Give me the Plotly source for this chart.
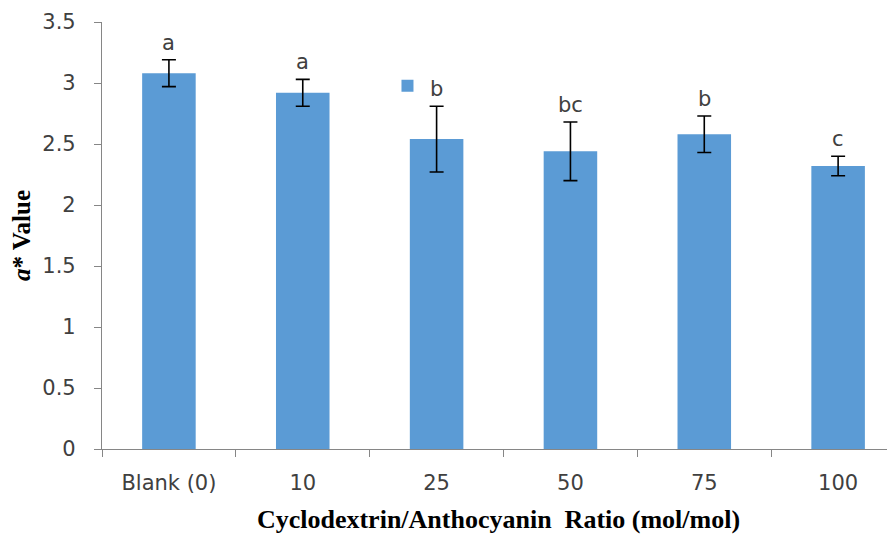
import plotly.graph_objects as go

categories = ["Blank (0)", "10", "25", "50", "75", "100"]
values = [3.08, 2.92, 2.54, 2.44, 2.58, 2.32]
errors = [0.11, 0.11, 0.27, 0.24, 0.15, 0.08]
letters = ["a", "a", "b", "bc", "b", "c"]
y_ticks = [0, 0.5, 1, 1.5, 2, 2.5, 3, 3.5]
y_tick_text = ["0", "0.5", "1", "1.5", "2", "2.5", "3", "3.5"]

BAR = "#5B9BD5"
AXIS = "#868686"
TXT = "#404040"

fig = go.Figure()
fig.add_trace(go.Bar(
    x=categories, y=values, name=" ",
    marker=dict(color=BAR, line=dict(width=0)),
    width=0.4,
    error_y=dict(type="data", array=errors, visible=True,
                 color="black", thickness=1.6, width=7),
    showlegend=True,
))

for i, (v, e, t) in enumerate(zip(values, errors, letters)):
    fig.add_annotation(x=i, y=v + e, text=t, showarrow=False,
                       yanchor="bottom", yshift=3,
                       font=dict(family="DejaVu Sans", size=21, color=TXT))

fig.update_layout(
    width=887, height=526,
    margin=dict(l=94, r=0, t=14, b=85, autoexpand=False),
    plot_bgcolor="white", paper_bgcolor="white",
    legend=dict(x=0.360, y=0.85, xanchor="left", yanchor="middle",
                bgcolor="rgba(0,0,0,0)", borderwidth=0,
                font=dict(family="DejaVu Sans", size=18, color=TXT)),
    xaxis=dict(
        type="category", automargin=False,
        range=[-0.5, 5.425],
        showline=True, linecolor=AXIS, linewidth=1.2,
        ticks="outside", tickson="boundaries", ticklen=7, tickcolor=AXIS,
        tickfont=dict(family="DejaVu Sans", size=21, color=TXT),
        ticklabelstandoff=15,
        title=dict(text="Cyclodextrin/Anthocyanin  Ratio (mol/mol)",
                   font=dict(family="Liberation Serif", size=26, color="black", weight="bold"),
                   standoff=17),
    ),
    yaxis=dict(
        range=[0, 3.5], automargin=False,
        tickvals=y_ticks, ticktext=y_tick_text,
        showline=True, linecolor=AXIS, linewidth=1.2,
        ticks="outside", ticklen=7, tickcolor=AXIS,
        showgrid=False, zeroline=False,
        tickfont=dict(family="DejaVu Sans", size=21, color=TXT),
        ticklabelstandoff=14,
        title=dict(text="<i>a</i>* Value",
                   font=dict(family="Liberation Serif", size=25, color="black", weight="bold"),
                   standoff=10),
    ),
)

fig.write_html("out.html")
